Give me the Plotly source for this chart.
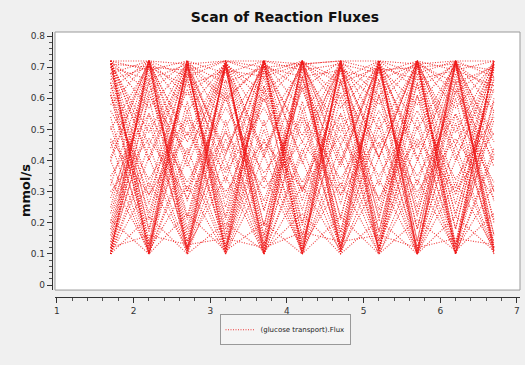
import plotly.graph_objects as go

# Scanned parameter values (x axis)
X_VALUES = [1.7, 2.2, 2.7, 3.2, 3.7, 4.2, 4.7, 5.2, 5.7, 6.2, 6.7]

# (glucose transport).Flux for each scan run (mmol/s), one row per run
RUNS = [
    [0.10, 0.72, 0.10, 0.72, 0.10, 0.72, 0.10, 0.72, 0.10, 0.72, 0.10],
    [0.11, 0.71, 0.12, 0.72, 0.11, 0.71, 0.12, 0.72, 0.11, 0.71, 0.12],
    [0.13, 0.72, 0.14, 0.70, 0.13, 0.72, 0.15, 0.70, 0.14, 0.72, 0.13],
    [0.16, 0.70, 0.18, 0.71, 0.16, 0.69, 0.17, 0.71, 0.18, 0.70, 0.16],
    [0.20, 0.72, 0.22, 0.69, 0.19, 0.72, 0.21, 0.70, 0.22, 0.72, 0.20],
    [0.25, 0.71, 0.27, 0.72, 0.24, 0.70, 0.26, 0.72, 0.25, 0.71, 0.27],
    [0.10, 0.66, 0.11, 0.64, 0.10, 0.67, 0.12, 0.65, 0.10, 0.66, 0.11],
    [0.12, 0.60, 0.10, 0.62, 0.13, 0.59, 0.11, 0.61, 0.12, 0.60, 0.10],
    [0.10, 0.55, 0.12, 0.53, 0.10, 0.56, 0.11, 0.54, 0.10, 0.55, 0.12],
    [0.32, 0.72, 0.30, 0.71, 0.33, 0.72, 0.31, 0.70, 0.32, 0.72, 0.30],
    [0.72, 0.10, 0.72, 0.10, 0.72, 0.10, 0.72, 0.10, 0.72, 0.10, 0.72],
    [0.71, 0.11, 0.72, 0.12, 0.71, 0.11, 0.72, 0.12, 0.71, 0.11, 0.72],
    [0.72, 0.14, 0.70, 0.13, 0.72, 0.15, 0.70, 0.14, 0.72, 0.13, 0.70],
    [0.70, 0.17, 0.71, 0.18, 0.69, 0.16, 0.71, 0.17, 0.70, 0.18, 0.71],
    [0.72, 0.21, 0.69, 0.22, 0.72, 0.20, 0.70, 0.21, 0.72, 0.22, 0.69],
    [0.71, 0.26, 0.72, 0.25, 0.70, 0.27, 0.72, 0.24, 0.71, 0.26, 0.72],
    [0.65, 0.10, 0.67, 0.11, 0.64, 0.10, 0.66, 0.12, 0.65, 0.10, 0.67],
    [0.61, 0.12, 0.59, 0.10, 0.62, 0.13, 0.60, 0.11, 0.61, 0.12, 0.59],
    [0.54, 0.10, 0.56, 0.12, 0.53, 0.10, 0.55, 0.11, 0.54, 0.10, 0.56],
    [0.72, 0.31, 0.71, 0.33, 0.72, 0.30, 0.70, 0.32, 0.72, 0.31, 0.71],
    [0.72, 0.69, 0.72, 0.68, 0.72, 0.69, 0.71, 0.68, 0.72, 0.69, 0.72],
    [0.68, 0.72, 0.67, 0.72, 0.68, 0.72, 0.66, 0.72, 0.68, 0.72, 0.67],
    [0.72, 0.62, 0.72, 0.60, 0.71, 0.63, 0.72, 0.61, 0.72, 0.62, 0.71],
    [0.63, 0.72, 0.61, 0.71, 0.62, 0.72, 0.60, 0.72, 0.63, 0.71, 0.62],
    [0.72, 0.72, 0.71, 0.72, 0.72, 0.71, 0.72, 0.72, 0.71, 0.72, 0.72],
    [0.70, 0.66, 0.71, 0.65, 0.70, 0.67, 0.69, 0.66, 0.71, 0.65, 0.70],
    [0.40, 0.72, 0.38, 0.70, 0.41, 0.72, 0.39, 0.71, 0.40, 0.72, 0.38],
    [0.72, 0.40, 0.70, 0.42, 0.72, 0.39, 0.71, 0.41, 0.72, 0.40, 0.70],
    [0.50, 0.71, 0.48, 0.72, 0.51, 0.70, 0.49, 0.72, 0.50, 0.71, 0.48],
    [0.71, 0.49, 0.72, 0.51, 0.70, 0.48, 0.72, 0.50, 0.71, 0.49, 0.72],
    [0.10, 0.45, 0.11, 0.47, 0.10, 0.44, 0.12, 0.46, 0.10, 0.45, 0.11],
    [0.46, 0.10, 0.44, 0.11, 0.47, 0.10, 0.45, 0.12, 0.46, 0.10, 0.44],
    [0.28, 0.62, 0.30, 0.60, 0.27, 0.63, 0.29, 0.61, 0.28, 0.62, 0.30],
    [0.61, 0.29, 0.63, 0.28, 0.60, 0.30, 0.62, 0.27, 0.61, 0.29, 0.63],
    [0.35, 0.55, 0.33, 0.57, 0.36, 0.54, 0.34, 0.56, 0.35, 0.55, 0.33],
    [0.56, 0.34, 0.54, 0.36, 0.57, 0.33, 0.55, 0.35, 0.56, 0.34, 0.54],
    [0.10, 0.22, 0.10, 0.20, 0.11, 0.23, 0.10, 0.21, 0.10, 0.22, 0.11],
    [0.21, 0.10, 0.23, 0.11, 0.20, 0.10, 0.22, 0.10, 0.21, 0.11, 0.23],
    [0.12, 0.16, 0.13, 0.15, 0.12, 0.17, 0.14, 0.16, 0.12, 0.15, 0.13],
    [0.10, 0.33, 0.12, 0.35, 0.10, 0.32, 0.11, 0.34, 0.10, 0.33, 0.12],
    [0.34, 0.11, 0.32, 0.10, 0.35, 0.12, 0.33, 0.10, 0.34, 0.11, 0.32],
    [0.10, 0.41, 0.72, 0.40, 0.10, 0.42, 0.72, 0.41, 0.10, 0.40, 0.72],
    [0.72, 0.41, 0.10, 0.42, 0.72, 0.40, 0.10, 0.41, 0.72, 0.42, 0.10],
    [0.41, 0.72, 0.40, 0.10, 0.42, 0.72, 0.41, 0.10, 0.40, 0.72, 0.42],
    [0.40, 0.10, 0.41, 0.72, 0.42, 0.10, 0.40, 0.72, 0.41, 0.10, 0.42],
    [0.14, 0.72, 0.12, 0.71, 0.15, 0.72, 0.13, 0.71, 0.14, 0.72, 0.12],
    [0.72, 0.13, 0.71, 0.15, 0.72, 0.12, 0.71, 0.14, 0.72, 0.13, 0.71],
    [0.18, 0.68, 0.16, 0.70, 0.19, 0.67, 0.17, 0.69, 0.18, 0.68, 0.16],
    [0.68, 0.18, 0.70, 0.16, 0.67, 0.19, 0.69, 0.17, 0.68, 0.18, 0.70],
    [0.23, 0.65, 0.21, 0.66, 0.24, 0.64, 0.22, 0.66, 0.23, 0.65, 0.21],
    [0.65, 0.23, 0.66, 0.21, 0.64, 0.24, 0.66, 0.22, 0.65, 0.23, 0.66],
    [0.44, 0.72, 0.46, 0.71, 0.43, 0.72, 0.45, 0.70, 0.44, 0.72, 0.46],
    [0.72, 0.45, 0.71, 0.43, 0.72, 0.46, 0.70, 0.44, 0.72, 0.45, 0.71],
    [0.58, 0.72, 0.56, 0.71, 0.59, 0.72, 0.57, 0.70, 0.58, 0.72, 0.56],
    [0.72, 0.57, 0.71, 0.59, 0.72, 0.56, 0.70, 0.58, 0.72, 0.57, 0.71],
    [0.71, 0.70, 0.69, 0.72, 0.70, 0.71, 0.72, 0.69, 0.70, 0.71, 0.69],
    [0.66, 0.70, 0.64, 0.69, 0.67, 0.71, 0.65, 0.70, 0.66, 0.69, 0.64],
    [0.12, 0.52, 0.14, 0.50, 0.12, 0.53, 0.13, 0.51, 0.12, 0.52, 0.14],
    [0.51, 0.13, 0.53, 0.12, 0.50, 0.14, 0.52, 0.12, 0.51, 0.13, 0.53],
    [0.11, 0.61, 0.42, 0.70, 0.12, 0.66, 0.38, 0.72, 0.11, 0.63, 0.40],
    [0.62, 0.12, 0.68, 0.37, 0.71, 0.11, 0.65, 0.41, 0.72, 0.12, 0.60],
    [0.30, 0.47, 0.28, 0.49, 0.31, 0.46, 0.29, 0.48, 0.30, 0.47, 0.28],
    [0.47, 0.29, 0.49, 0.30, 0.46, 0.31, 0.48, 0.28, 0.47, 0.30, 0.49],
    [0.72, 0.10, 0.71, 0.11, 0.72, 0.10, 0.72, 0.11, 0.71, 0.10, 0.72],
    [0.10, 0.72, 0.11, 0.71, 0.10, 0.72, 0.11, 0.72, 0.10, 0.71, 0.11],
]

SERIES_NAME = "(glucose transport).Flux"
TITLE = "Scan of Reaction Fluxes"
Y_LABEL = "mmol/s"

xs, ys = [], []
for run in RUNS:
    xs.extend(X_VALUES + [None])
    ys.extend(run + [None])

fig = go.Figure()
fig.add_trace(go.Scatter(
    x=xs, y=ys, mode="lines", name=SERIES_NAME, connectgaps=False,
    line=dict(color="rgba(238,22,22,0.85)", width=1.1, dash="1px,1.5px"),
    showlegend=True,
))

axis_font = dict(family="DejaVu Sans", size=9, color="#333333")
fig.update_layout(
    width=525, height=365,
    margin=dict(l=50, r=5, t=32, b=45),
    paper_bgcolor="#f0f0f0",
    plot_bgcolor="white",
    title=dict(text="<b>" + TITLE + "</b>", x=0.5, xref="paper", xanchor="center",
               y=0.953, yref="container", yanchor="middle",
               font=dict(family="DejaVu Sans", size=14, color="#111111")),
    xaxis=dict(domain=[0.0106, 1], range=[0.974, 7.04], anchor="free", position=0.08,
               showgrid=False, zeroline=False, showline=True, linecolor="#333333", linewidth=1,
               ticks="outside", ticklen=5, tickcolor="#333333", dtick=1, tick0=0,
               tickfont=axis_font,
               minor=dict(ticks="outside", ticklen=3, dtick=0.2, tickcolor="#555555")),
    yaxis=dict(domain=[0.104, 1], range=[-0.016, 0.813], anchor="free", position=0.004,
               showgrid=False, zeroline=False, showline=True, linecolor="#333333", linewidth=1,
               ticks="outside", ticklen=5, tickcolor="#333333", dtick=0.1, tick0=0,
               tickformat="~g", tickfont=axis_font,
               minor=dict(ticks="outside", ticklen=3, dtick=0.02, tickcolor="#555555")),
    legend=dict(x=0.5, xanchor="center", y=0.02, yanchor="top", orientation="h",
                bgcolor="#f4f4f4", bordercolor="#999999", borderwidth=1,
                font=dict(family="DejaVu Sans", size=7, color="#222222"),
                itemwidth=30, tracegroupgap=0),
    annotations=[dict(text="<b>" + Y_LABEL + "</b>", xref="paper", yref="paper",
                      x=-0.072, y=0.45, textangle=-90, showarrow=False,
                      font=dict(family="DejaVu Sans", size=13, color="#111111"))],
    shapes=[dict(type="rect", xref="x domain", yref="y domain", x0=0, x1=1, y0=0, y1=1,
                 line=dict(color="#9a9a9a", width=1), layer="above")],
)

fig.write_html("out.html")
